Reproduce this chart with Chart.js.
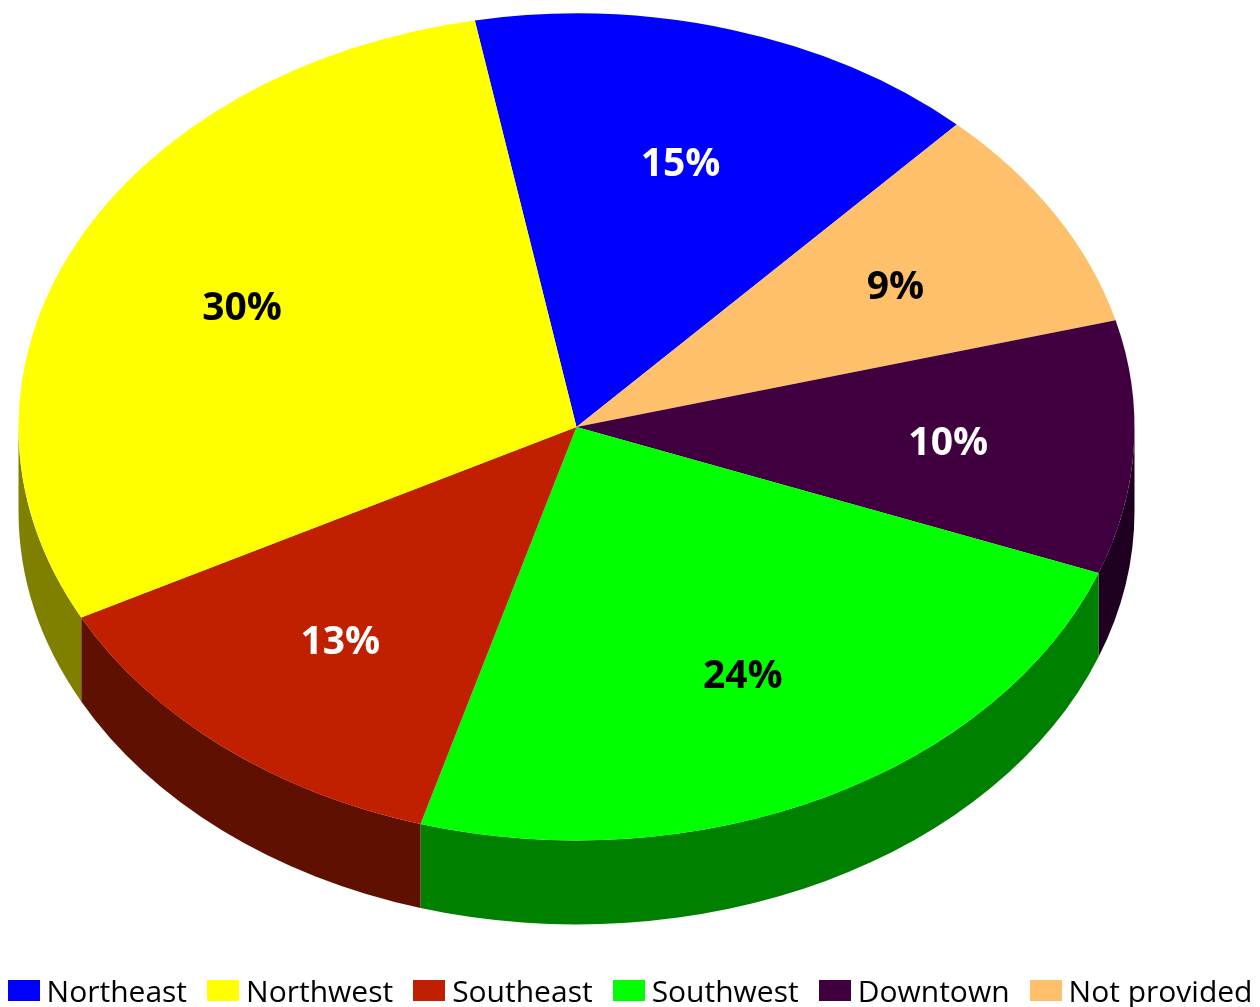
<!DOCTYPE html>
<html>
<head>
<meta charset="utf-8">
<script src="https://cdn.jsdelivr.net/npm/chart.js@4/dist/chart.umd.min.js"></script>
<style>
  html, body { margin: 0; padding: 0; background: #fff; }
  #wrap { position: relative; width: 1260px; height: 1007px; overflow: hidden; }
  #pie { position: absolute; left: 0; top: 0; }
  #legend {
    position: absolute; left: 0; top: 970px; width: 1260px; height: 40px;
    display: flex; justify-content: center; align-items: center;
    font-family: "Open Sans", sans-serif; font-size: 30px; color: #000;
  }
  .item { display: flex; align-items: center; margin: 0 10px; white-space: nowrap; }
  .swatch { width: 32px; height: 21px; margin-right: 7px; }
</style>
</head>
<body>
<div id="wrap">
  <canvas id="pie" width="1260" height="1007"></canvas>
  <div id="legend"></div>
</div>
<script>
// Regions and their shares (percent), in legend order
const regions = ['Northeast', 'Northwest', 'Southeast', 'Southwest', 'Downtown', 'Not provided'];
const shares = [15, 30, 13, 24, 10, 9];
const topColors = ['#0000FF', '#FFFF00', '#C01F00', '#00FF00', '#400040', '#FFC06C'];
const labelColors = ['#FFFFFF', '#000000', '#FFFFFF', '#000000', '#FFFFFF', '#000000'];
// Clockwise drawing order of the slices, starting from Northeast
const sliceOrder = [0, 5, 4, 3, 2, 1];

function darken(hex, f) {
  const n = parseInt(hex.slice(1), 16);
  const r = Math.round(((n >> 16) & 255) * f);
  const g = Math.round(((n >> 8) & 255) * f);
  const b = Math.round((n & 255) * f);
  return 'rgb(' + r + ',' + g + ',' + b + ')';
}

// Tilted pie: squashes the library's circular arcs into an ellipse and
// extrudes the front rim downward.
const tiltPlugin = {
  id: 'tilt',
  beforeDatasetsDraw(chart, args, opts) {
    const ctx = chart.ctx;
    const meta = chart.getDatasetMeta(0);
    const ds = chart.data.datasets[0];
    // side walls first (front half only: angles between 0 and PI)
    meta.data.forEach((arc, i) => {
      let a = arc.startAngle, b = arc.endAngle;
      const TAU = Math.PI * 2;
      while (a < 0) { a += TAU; b += TAU; }
      while (a >= TAU) { a -= TAU; b -= TAU; }
      const ranges = [[a, b], [a - TAU, b - TAU], [a + TAU, b + TAU]];
      ranges.forEach(([s, e]) => {
        const lo = Math.max(s, 0), hi = Math.min(e, Math.PI);
        if (hi <= lo) return;
        ctx.save();
        ctx.beginPath();
        ctx.ellipse(opts.cx, opts.cy, opts.rx, opts.ry, 0, lo, hi, false);
        ctx.ellipse(opts.cx, opts.cy + opts.depth, opts.rx, opts.ry, 0, hi, lo, true);
        ctx.closePath();
        ctx.fillStyle = ds.sideColors[i];
        ctx.fill();
        ctx.restore();
      });
    });
    // map the circle onto the ellipse for the top face
    const el = meta.data[0];
    ctx.save();
    ctx.translate(opts.cx, opts.cy);
    ctx.scale(opts.rx / el.outerRadius, opts.ry / el.outerRadius);
    ctx.translate(-el.x, -el.y);
  },
  afterDatasetsDraw(chart, args, opts) {
    const ctx = chart.ctx;
    ctx.restore();
    const meta = chart.getDatasetMeta(0);
    const ds = chart.data.datasets[0];
    ctx.save();
    ctx.font = 'bold 39px "Open Sans", sans-serif';
    ctx.textAlign = 'center';
    ctx.textBaseline = 'middle';
    meta.data.forEach((arc, i) => {
      const mid = (arc.startAngle + arc.endAngle) / 2;
      const x = opts.cx + opts.rx * opts.labelRadius * Math.cos(mid);
      const y = opts.cy + opts.ry * opts.labelRadius * Math.sin(mid);
      ctx.fillStyle = ds.labelColors[i];
      ctx.fillText(ds.data[i] + '%', x, y + 3);
    });
    ctx.restore();
  }
};

const chart = new Chart(document.getElementById('pie'), {
  type: 'pie',
  data: {
    labels: sliceOrder.map(i => regions[i]),
    datasets: [{
      data: sliceOrder.map(i => shares[i]),
      backgroundColor: sliceOrder.map(i => topColors[i]),
      sideColors: sliceOrder.map(i => darken(topColors[i], 0.5)),
      labelColors: sliceOrder.map(i => labelColors[i]),
      borderWidth: 0
    }]
  },
  options: {
    responsive: false,
    animation: false,
    rotation: -10.5,
    layout: { padding: 0 },
    plugins: {
      legend: { display: false },
      tooltip: { enabled: false },
      tilt: { cx: 576.5, cy: 427, rx: 558, ry: 413.5, depth: 84, labelRadius: 0.667 }
    }
  },
  plugins: [tiltPlugin]
});

// Legend row
const legend = document.getElementById('legend');
regions.forEach((name, i) => {
  const item = document.createElement('div');
  item.className = 'item';
  const sw = document.createElement('span');
  sw.className = 'swatch';
  sw.style.background = topColors[i];
  const tx = document.createElement('span');
  tx.textContent = name;
  item.appendChild(sw);
  item.appendChild(tx);
  legend.appendChild(item);
});
</script>
</body>
</html>
